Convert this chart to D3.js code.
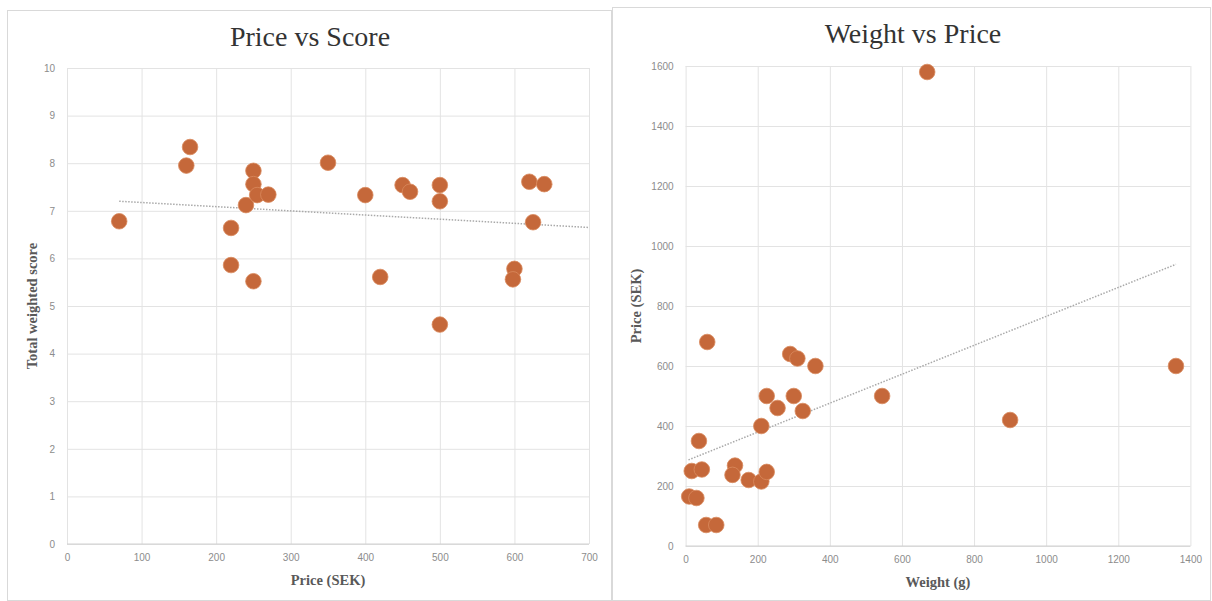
<!DOCTYPE html>
<html>
<head>
<meta charset="utf-8">
<script src="https://cdn.jsdelivr.net/npm/d3@7"></script>
<style>
  html, body { margin: 0; padding: 0; background: #ffffff; }
  svg { display: block; }
</style>
</head>
<body>
<svg id="chart" width="1212" height="601"></svg>
<script>
// ---- Chart 1: Price vs Score ----
const priceScorePrice = [70, 160, 165, 220, 220, 240, 250, 250, 255, 270, 250, 350, 400, 420, 450, 460, 500, 500, 500, 600, 598, 620, 640, 625];
const priceScoreScore = [6.78, 7.95, 8.34, 6.64, 5.86, 7.12, 7.84, 7.56, 7.33, 7.34, 5.52, 8.01, 7.33, 5.61, 7.54, 7.40, 7.54, 7.20, 4.61, 5.78, 5.56, 7.61, 7.56, 6.76];
const priceTicks = [0, 100, 200, 300, 400, 500, 600, 700];
const scoreTicks = [0, 1, 2, 3, 4, 5, 6, 7, 8, 9, 10];
// trendline endpoints (price, score)
const priceScoreTrendX = [70, 700];
const priceScoreTrendY = [7.2, 6.65];

// ---- Chart 2: Weight vs Price ----
const weightGrams = [60, 37, 10, 30, 17, 45, 57, 85, 137, 130, 175, 210, 225, 210, 225, 255, 290, 310, 300, 325, 360, 545, 900, 1360, 670];
const weightPrice = [680, 350, 165, 160, 250, 255, 70, 70, 268, 237, 220, 215, 247, 400, 500, 460, 640, 625, 500, 450, 600, 500, 420, 600, 1580];
const weightTicks = [0, 200, 400, 600, 800, 1000, 1200, 1400];
const priceAxisTicks = [0, 200, 400, 600, 800, 1000, 1200, 1400, 1600];
// trendline endpoints (weight, price)
const weightTrendX = [8, 1360];
const weightTrendY = [287, 939];

const svg = d3.select("#chart");
const DOT = "#c5683a";
const GRID = "#e3e3e3";
const TICK = "#8c8c8c";
const serif = "'Liberation Serif', 'DejaVu Serif', serif";
const sans = "'Liberation Sans', Arial, sans-serif";

function drawPanel(cfg) {
  const g = svg.append("g");
  g.append("rect")
    .attr("x", cfg.panel[0] + 0.5).attr("y", cfg.panel[1] + 0.5)
    .attr("width", cfg.panel[2]).attr("height", cfg.panel[3])
    .attr("fill", "#fff").attr("stroke", "#d9d9d9").attr("stroke-width", 1);

  const x = d3.scaleLinear().domain(cfg.xDomain).range([cfg.plot[0], cfg.plot[1]]);
  const y = d3.scaleLinear().domain(cfg.yDomain).range([cfg.plot[3], cfg.plot[2]]);

  const gx = g.append("g")
    .attr("transform", `translate(0,${cfg.plot[3]})`)
    .call(d3.axisBottom(x).tickValues(cfg.xTicks).tickSize(-(cfg.plot[3]-cfg.plot[2])).tickPadding(10).tickFormat(d3.format("d")));
  gx.select(".domain").remove();
  gx.selectAll("line").attr("stroke", GRID);
  gx.selectAll("text").attr("fill", TICK).style("font-family", sans).style("font-size", "10px");

  const gy = g.append("g")
    .attr("transform", `translate(${cfg.plot[0]},0)`)
    .call(d3.axisLeft(y).tickValues(cfg.yTicks).tickSize(-(cfg.plot[1]-cfg.plot[0])).tickPadding(cfg.yPad).tickFormat(d3.format("d")));
  gy.select(".domain").remove();
  gy.selectAll("line").attr("stroke", GRID);
  gy.selectAll("text").attr("fill", TICK).style("font-family", sans).style("font-size", "10px");

  g.append("line")
    .attr("x1", cfg.plot[0]).attr("x2", cfg.plot[1])
    .attr("y1", cfg.plot[3]).attr("y2", cfg.plot[3])
    .attr("stroke", "#d0d0d0");

  // trendline
  g.append("path")
    .datum(cfg.trendX.map((v, i) => [v, cfg.trendY[i]]))
    .attr("d", d3.line().x(d => x(d[0])).y(d => y(d[1])))
    .attr("fill", "none")
    .attr("stroke", "#a9a9a9").attr("stroke-width", 1.5)
    .attr("stroke-dasharray", "1.5,1.5");

  // points
  g.append("g").selectAll("circle")
    .data(cfg.xs.map((v, i) => [v, cfg.ys[i]]))
    .join("circle")
    .attr("cx", d => x(d[0])).attr("cy", d => y(d[1]))
    .attr("r", 7.8)
    .attr("fill", DOT)
    .attr("stroke", "#d98a5e").attr("stroke-width", 0.8);

  g.append("text")
    .attr("x", cfg.titleX).attr("y", cfg.titleY)
    .attr("text-anchor", "middle")
    .attr("fill", "#333")
    .style("font-family", serif).style("font-size", "28px")
    .text(cfg.title);

  g.append("text")
    .attr("x", (cfg.plot[0]+cfg.plot[1])/2).attr("y", cfg.xTitleY)
    .attr("text-anchor", "middle")
    .attr("fill", "#595959")
    .style("font-family", serif).style("font-size", "14.5px").style("font-weight", "bold")
    .text(cfg.xTitle);

  g.append("text")
    .attr("transform", `translate(${cfg.yTitleX},${(cfg.plot[2]+cfg.plot[3])/2}) rotate(-90)`)
    .attr("text-anchor", "middle")
    .attr("fill", "#595959")
    .style("font-family", serif).style("font-size", "14.5px").style("font-weight", "bold")
    .text(cfg.yTitle);
}

drawPanel({
  panel: [7, 10, 604, 590],
  plot: [67, 589, 68, 544],
  xDomain: [0, 700], yDomain: [0, 10],
  xTicks: priceTicks, yTicks: scoreTicks, yPad: 12,
  xs: priceScorePrice, ys: priceScoreScore,
  trendX: priceScoreTrendX, trendY: priceScoreTrendY,
  title: "Price vs Score", titleX: 310, titleY: 46,
  xTitle: "Price (SEK)", xTitleY: 585,
  yTitle: "Total weighted score", yTitleX: 37
});

drawPanel({
  panel: [612, 7, 598, 593],
  plot: [685.6, 1190.4, 66, 546],
  xDomain: [0, 1400], yDomain: [0, 1600],
  xTicks: weightTicks, yTicks: priceAxisTicks, yPad: 12,
  xs: weightGrams, ys: weightPrice,
  trendX: weightTrendX, trendY: weightTrendY,
  title: "Weight vs Price", titleX: 913, titleY: 43,
  xTitle: "Weight (g)", xTitleY: 587,
  yTitle: "Price (SEK)", yTitleX: 641
});
</script>
</body>
</html>
